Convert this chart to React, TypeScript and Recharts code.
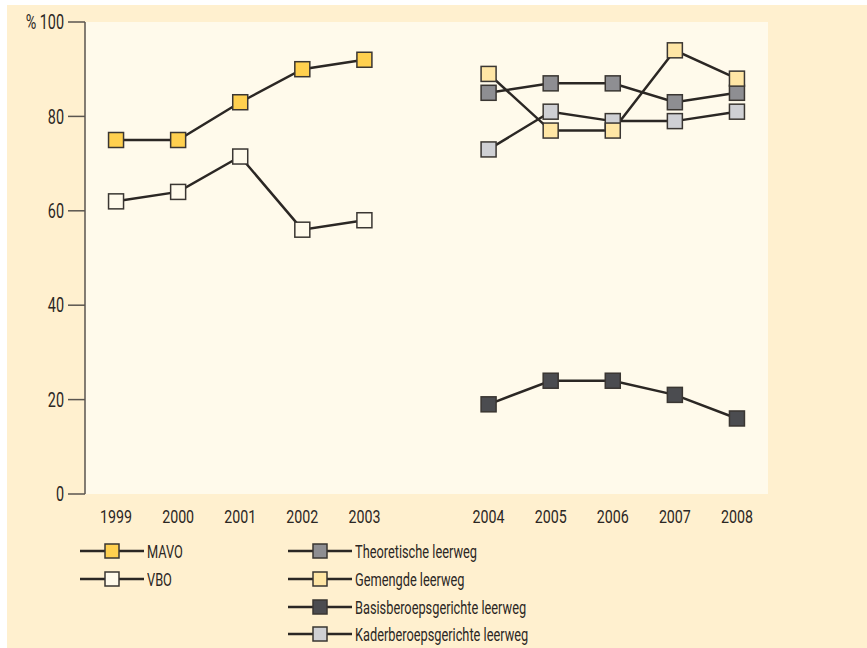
import { CartesianGrid, Line, LineChart, XAxis, YAxis } from "recharts";

const YEARS = ["1999", "2000", "2001", "2002", "2003", "", "2004", "2005", "2006", "2007", "2008"];
const MAVO = [75, 75, 83, 90, 92, null, null, null, null, null, null];
const VBO = [62, 64, 71.5, 56, 58, null, null, null, null, null, null];
const THEORETISCHE = [null, null, null, null, null, null, 85, 87, 87, 83, 85];
const KADER = [null, null, null, null, null, null, 73, 81, 79, 79, 81];
const GEMENGDE = [null, null, null, null, null, null, 89, 77, 77, 94, 88];
const BASIS = [null, null, null, null, null, null, 19, 24, 24, 21, 16];
const Y_TICKS = [0, 20, 40, 60, 80, 100];

const BOUNDARIES = YEARS.map((_, i) => i - 0.5).concat(YEARS.length - 0.5);

const data = YEARS.map((year, i) => ({
  year: year || " ",
  mavo: MAVO[i],
  vbo: VBO[i],
  theoretische: THEORETISCHE[i],
  kader: KADER[i],
  gemengde: GEMENGDE[i],
  basis: BASIS[i],
}));

const FONT = "Roboto, 'Noto Sans', sans-serif";
const INK = "#2b2724";
const AXIS = "#5a554f";

const SERIES = [
  { key: "mavo", name: "MAVO", color: "#ffd04f" },
  { key: "vbo", name: "VBO", color: "#fffaeb" },
  { key: "theoretische", name: "Theoretische leerweg", color: "#8e8e92" },
  { key: "kader", name: "Kaderberoepsgerichte leerweg", color: "#cfd0d4" },
  { key: "gemengde", name: "Gemengde leerweg", color: "#ffe6a5" },
  { key: "basis", name: "Basisberoepsgerichte leerweg", color: "#4b4c50" },
];

const LEGEND = [
  { key: "mavo", left: 73, top: 546 },
  { key: "vbo", left: 73, top: 574 },
  { key: "theoretische", left: 281, top: 546 },
  { key: "gemengde", left: 281, top: 574 },
  { key: "basis", left: 281, top: 602 },
  { key: "kader", left: 281, top: 629 },
];

// the original uses a condensed face; squeeze Roboto horizontally
function XTick(props: any) {
  const { x, y, payload } = props;
  return (
    <text
      transform={`translate(${x},${y}) scale(0.79,1)`}
      textAnchor="middle"
      dy="0.71em"
      fill={INK}
      fontSize={18}
      fontFamily={FONT}
    >
      {payload.value}
    </text>
  );
}

function YTick(props: any) {
  const { x, y, payload } = props;
  return (
    <text
      transform={`translate(${x},${y}) scale(0.72,1)`}
      textAnchor="end"
      dy="0.355em"
      fill={INK}
      fontSize={20}
      fontFamily={FONT}
    >
      {payload.value === 100 ? "% 100" : payload.value}
    </text>
  );
}

function squareDot(fill: string) {
  return (props: any) => {
    const { cx, cy, index, value } = props;
    if (cx == null || cy == null || value == null) return <g key={index} />;
    return (
      <rect
        key={index}
        x={cx - 7.5}
        y={cy - 7.5}
        width={15}
        height={15}
        fill={fill}
        stroke="#3a3632"
        strokeWidth={1.5}
      />
    );
  };
}

export default function App() {
  return (
    <div style={{ position: "absolute", left: 0, top: 0, width: 867, height: 648, background: "#fff" }}>
      <div
        style={{
          position: "absolute",
          left: 7,
          top: 5,
          width: 860,
          height: 643,
          background: "#fff0cf",
          fontFamily: FONT,
        }}
      >
        <LineChart width={860} height={643} data={data} margin={{ top: 17, right: 99, bottom: 124, left: 0 }}>
          <CartesianGrid fill="#fffaeb" stroke="none" horizontal={false} vertical={false} />
          <XAxis
            xAxisId="grid"
            type="number"
            domain={[-0.5, YEARS.length - 0.5]}
            ticks={BOUNDARIES}
            allowDataOverflow
            tick={false}
            tickSize={10}
            height={0}
            stroke={AXIS}
            strokeWidth={1.5}
          />
          <XAxis
            dataKey="year"
            scale="band"
            axisLine={false}
            tickLine={false}
            tickSize={10}
            tickMargin={6}
            height={30}
            interval={0}
            tick={<XTick />}
          />
          <YAxis
            width={78}
            domain={[0, 100]}
            ticks={Y_TICKS}
            tickSize={17}
            tickMargin={4}
            stroke={AXIS}
            strokeWidth={1.5}
            tick={<YTick />}
          />
          {SERIES.map((s) => (
            <Line
              key={s.key}
              dataKey={s.key}
              stroke={INK}
              strokeWidth={2.5}
              dot={squareDot(s.color)}
              activeDot={false}
              isAnimationActive={false}
            />
          ))}
        </LineChart>
        {LEGEND.map((item) => {
          const s = SERIES.find((x) => x.key === item.key)!;
          return (
            <div
              key={item.key}
              style={{
                position: "absolute",
                left: item.left,
                top: item.top - 10,
                height: 20,
                display: "flex",
                alignItems: "center",
                fontSize: 18,
                color: INK,
                whiteSpace: "nowrap",
              }}
            >
              <svg width={64} height={20}>
                <line x1={0} y1={10} x2={64} y2={10} stroke={INK} strokeWidth={2.5} />
                <rect x={25} y={3} width={14} height={14} fill={s.color} stroke="#3a3632" strokeWidth={1.5} />
              </svg>
              <span
                style={{
                  marginLeft: 3,
                  display: "inline-block",
                  transform: "scaleX(0.71)",
                  transformOrigin: "left center",
                }}
              >
                {s.name}
              </span>
            </div>
          );
        })}
      </div>
    </div>
  );
}
